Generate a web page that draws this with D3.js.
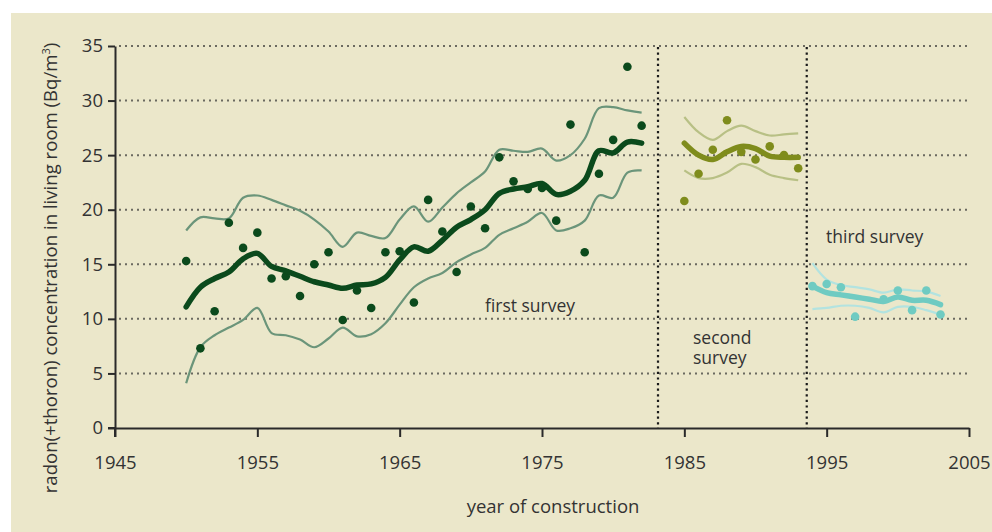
<!DOCTYPE html>
<html>
<head>
<meta charset="utf-8">
<script src="https://cdn.jsdelivr.net/npm/d3@7"></script>
<style>
  body { margin: 0; background: #fff; }
  text { font-family: "Open Sans", sans-serif; fill: #333; }
</style>
</head>
<body>
<svg id="chart" width="992" height="532"></svg>
<script>
// first survey (1950-1982)
var years1 = d3.range(1950, 1983);
var mean1 = [11.1, 12.9, 13.7, 14.3, 15.5, 16.0, 14.8, 14.4, 13.9, 13.4, 13.1, 12.8, 13.1, 13.2, 13.8, 15.4, 16.6,
  16.2, 17.2, 18.4, 19.1, 20.0, 21.5, 21.9, 22.1, 22.4, 21.4, 21.7, 22.7, 25.4, 25.2, 26.2, 26.1];
var upper1 = [18.1, 19.3, 19.2, 19.2, 21.1, 21.3, 20.9, 20.4, 19.9, 19.1, 18.0, 16.6, 17.9, 17.6, 17.4, 19.1, 20.3,
  18.9, 20.2, 21.5, 22.5, 23.5, 25.5, 25.4, 25.3, 25.6, 24.5, 25.0, 26.5, 29.3, 29.4, 29.1, 28.9];
var lower1 = [4.1, 7.4, 8.5, 9.2, 9.9, 11.0, 8.7, 8.5, 8.1, 7.4, 8.2, 9.2, 8.4, 8.6, 9.6, 11.3, 12.9,
  13.7, 14.2, 15.2, 15.9, 16.5, 17.7, 18.3, 18.9, 19.7, 18.1, 18.3, 19.0, 21.3, 21.1, 23.4, 23.6];
var points1 = [15.3, 7.3, 10.7, 18.8, 16.5, 17.9, 13.7, 13.9, 12.1, 15.0, 16.1, 9.9, 12.6, 11.0, 16.1, 16.2, 11.5,
  20.9, 18.0, 14.3, 20.3, 18.3, 24.8, 22.6, 21.9, 22.0, 19.0, 27.8, 16.1, 23.3, 26.4, 33.1, 27.7];

// second survey (1985-1993)
var years2 = d3.range(1985, 1994);
var mean2 = [26.1, 25.0, 24.6, 25.3, 25.8, 25.6, 24.9, 24.8, 24.8];
var upper2 = [28.5, 27.1, 26.4, 27.2, 27.7, 27.2, 26.8, 26.9, 27.0];
var lower2 = [23.6, 22.9, 22.9, 23.4, 24.2, 23.9, 23.2, 22.9, 22.7];
var points2 = [20.8, 23.3, 25.5, 28.2, 25.3, 24.6, 25.8, 25.0, 23.8];

// third survey (1994-2003)
var years3 = d3.range(1994, 2004);
var mean3 = [13.0, 12.4, 12.2, 12.0, 11.8, 11.6, 12.0, 11.7, 11.7, 11.3];
var upper3 = [15.1, 13.6, 13.1, 12.9, 12.7, 12.4, 12.7, 12.6, 12.5, 12.1];
var lower3 = [10.9, 11.0, 11.2, 11.2, 11.0, 10.6, 11.1, 11.1, 10.8, 10.4];
var pointYears3 = [1994, 1995, 1996, 1997, 1999, 2000, 2001, 2002, 2003];
var points3 = [13.0, 13.2, 12.9, 10.2, 11.8, 12.6, 10.8, 12.6, 10.4];

var xTicks = [1945, 1955, 1965, 1975, 1985, 1995, 2005];
var yTicks = [0, 5, 10, 15, 20, 25, 30, 35];
var dividers = [1983.15, 1993.6];

var svg = d3.select('#chart');

svg.append('rect')
  .attr('x', 11).attr('y', 13)
  .attr('width', 981).attr('height', 519)
  .attr('fill', '#ebe7ca');

var x = d3.scaleLinear().domain([1945, 2005]).range([115, 969]);
var y = d3.scaleLinear().domain([0, 35]).range([428, 46]);

//grid
svg.append('g').selectAll('line')
  .data(yTicks.slice(1)).enter()
  .append('line')
  .attr('x1', x(1945) + 4).attr('x2', x(2005) + 2)
  .attr('y1', function (d) { return y(d); })
  .attr('y2', function (d) { return y(d); })
  .attr('stroke', '#6b6a60')
  .attr('stroke-width', 2)
  .attr('stroke-dasharray', '2,4');

//survey dividers
svg.append('g').selectAll('line')
  .data(dividers).enter()
  .append('line')
  .attr('x1', function (d) { return x(d); })
  .attr('x2', function (d) { return x(d); })
  .attr('y1', y(35) + 1).attr('y2', y(0))
  .attr('stroke', '#1a1a1a')
  .attr('stroke-width', 2.2)
  .attr('stroke-dasharray', '2.2,3.4');

//axes
var yAxis = svg.append('g')
  .attr('transform', 'translate(' + x(1945) + ',0)')
  .call(d3.axisLeft(y).tickValues(yTicks).tickSize(7).tickSizeOuter(0).tickPadding(5));
var xAxis = svg.append('g')
  .attr('transform', 'translate(0,' + y(0) + ')')
  .call(d3.axisBottom(x).tickValues(xTicks).tickFormat(d3.format('d')).tickSize(9).tickSizeOuter(0).tickPadding(19));

[yAxis, xAxis].forEach(function (g) {
  g.selectAll('path, line').attr('stroke', '#2a2a2a').attr('stroke-width', 2);
  g.selectAll('text').style('font-size', '18.5px').attr('fill', '#333');
});
// axis extensions past the origin
svg.append('line')
  .attr('x1', x(1945)).attr('x2', x(1945))
  .attr('y1', y(0)).attr('y2', y(0) + 9)
  .attr('stroke', '#2a2a2a').attr('stroke-width', 2);
svg.append('line')
  .attr('x1', x(1945) - 7).attr('x2', x(1945))
  .attr('y1', y(0)).attr('y2', y(0))
  .attr('stroke', '#2a2a2a').attr('stroke-width', 2);

//axis titles
svg.append('text')
  .attr('transform', 'translate(57,268) rotate(-90)')
  .attr('text-anchor', 'middle')
  .style('font-size', '18.6px')
  .html('radon(+thoron) concentration in living room (Bq/m<tspan dy="-7" style="font-size:11px">3</tspan><tspan dy="7">)</tspan>');
svg.append('text')
  .attr('x', 553).attr('y', 513)
  .attr('text-anchor', 'middle')
  .style('font-size', '18.5px')
  .text('year of construction');

//series
var line = d3.line()
  .x(function (d) { return x(d[0]); })
  .y(function (d) { return y(d[1]); })
  .curve(d3.curveCatmullRom.alpha(0.5));

function drawSurvey(years, mean, upper, lower, pYears, points, dark, light) {
  var g = svg.append('g');
  [upper, lower].forEach(function (band) {
    g.append('path')
      .datum(d3.zip(years, band))
      .attr('d', line)
      .attr('fill', 'none')
      .attr('stroke', light)
      .attr('stroke-width', 2.2);
  });
  g.selectAll('circle')
    .data(d3.zip(pYears, points)).enter()
    .append('circle')
    .attr('cx', function (d) { return x(d[0]); })
    .attr('cy', function (d) { return y(d[1]); })
    .attr('r', 4.3)
    .attr('fill', dark);
  g.append('path')
    .datum(d3.zip(years, mean))
    .attr('d', line)
    .attr('fill', 'none')
    .attr('stroke', dark)
    .attr('stroke-width', 5.5)
    .attr('stroke-linecap', 'round')
    .attr('stroke-linejoin', 'round');
}

drawSurvey(years1, mean1, upper1, lower1, years1, points1, '#0b4a1c', '#6b957a');
drawSurvey(years2, mean2, upper2, lower2, years2, points2, '#7f8c1c', '#b8c085');
drawSurvey(years3, mean3, upper3, lower3, pointYears3, points3, '#6fcbc2', '#b2e3e0');

//survey labels
svg.append('text').attr('x', 530).attr('y', 312).attr('text-anchor', 'middle')
  .style('font-size', '17.5px').text('first survey');
svg.append('text').attr('x', 693).attr('y', 344)
  .style('font-size', '17.5px').text('second');
svg.append('text').attr('x', 693).attr('y', 364)
  .style('font-size', '17.5px').text('survey');
svg.append('text').attr('x', 826).attr('y', 243)
  .style('font-size', '17.5px').text('third survey');
</script>
</body>
</html>
